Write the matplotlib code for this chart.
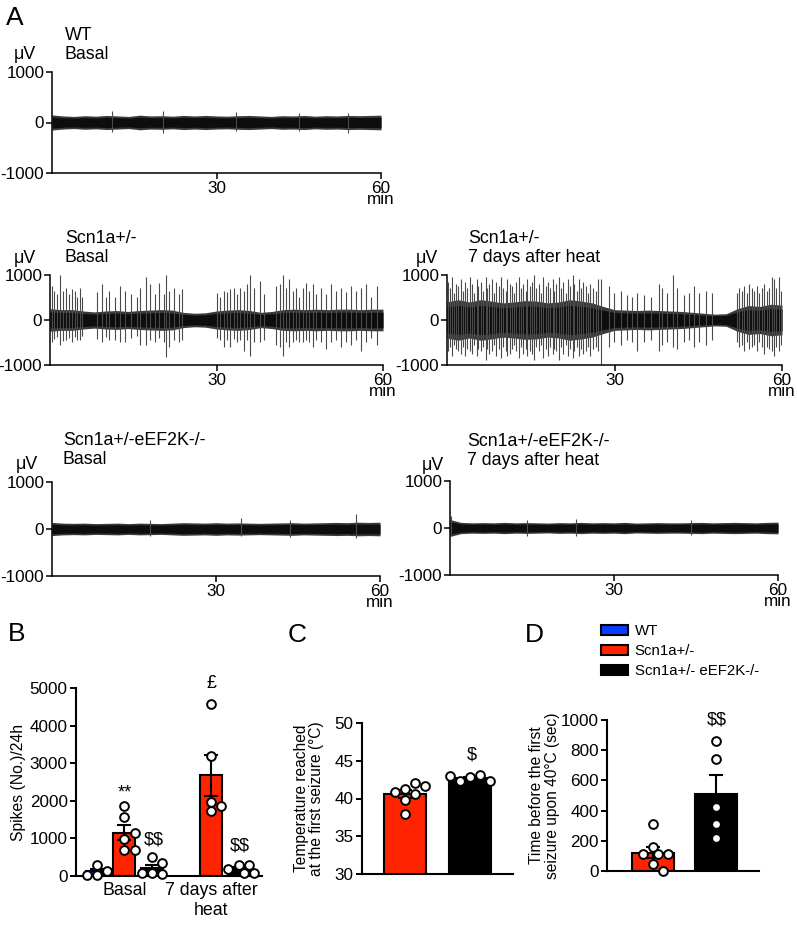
import numpy as np
import matplotlib
matplotlib.use('Agg')
import matplotlib.pyplot as plt
from matplotlib.patches import Patch

plt.rcParams['font.family'] = ['Liberation Sans', 'DejaVu Sans']
plt.rcParams['text.parse_math'] = False

W, H = 797, 926
RED = '#FF2400'
BLUE = '#0A3CFF'

# ---------------- EEG traces ----------------
# core band half-width (uV), sampled every 2 min from 0 to 60
env_t = list(range(0, 61, 2))
env_wt = [150, 130, 120, 135, 125, 140, 130, 120, 145, 130, 135, 125, 140, 130, 140,
          130, 125, 135, 140, 130, 120, 135, 130, 140, 125, 135, 130, 140, 135, 140, 145]
env_scn_basal = [250, 230, 230, 200, 180, 200, 210, 190, 210, 220, 230, 220, 170, 150, 160,
                 200, 220, 230, 210, 170, 190, 230, 240, 230, 240, 230, 240, 240, 230, 240, 240]
env_scn_heat = [400, 450, 400, 450, 420, 380, 400, 430, 420, 380, 400, 450, 420, 380, 300,
                230, 220, 210, 220, 210, 200, 190, 170, 150, 130, 140, 250, 320, 300, 350, 330]
env_ko_basal = [140, 125, 120, 125, 115, 120, 125, 115, 125, 120, 115, 125, 135, 130, 125,
                135, 125, 130, 125, 120, 125, 130, 135, 125, 130, 135, 140, 135, 145, 140, 145]
env_ko_heat = [180, 120, 110, 115, 110, 120, 110, 115, 110, 105, 115, 110, 120, 110, 115,
               110, 120, 105, 110, 115, 110, 110, 115, 120, 110, 115, 120, 115, 110, 120, 125]

# spikes: time (min), upward peak, downward peak (uV)
wt_t = [10.9, 20.2, 33.5, 45.0, 54.0]
wt_up = [220, 230, 200, 180, 190]
wt_dn = [180, 200, 170, 160, 200]

scn_b_t = [0.3, 0.8, 1.2, 1.8, 2.4, 2.9, 3.4, 4.0, 4.5, 4.9, 5.4, 5.8,
           8.4, 9.3, 10.1, 10.7, 11.7, 12.7, 13.6, 14.6, 15.7, 16.3, 17.3, 18.1, 19.0, 19.6,
           20.5, 20.9, 21.4, 22.3, 23.2, 23.7,
           30.1, 30.7, 31.3, 31.9, 32.5, 33.1, 33.7, 34.3, 34.9, 35.5, 36.1, 36.7, 37.8, 38.6,
           40.8, 41.4, 41.9, 42.5, 43.1, 43.7, 44.3, 44.9, 45.5, 46.1, 46.7, 47.3, 47.9, 48.8,
           49.7, 50.6, 51.5, 52.4, 53.3, 54.2, 55.1, 56.0, 56.9, 57.8, 59.0]
scn_b_up = [760, 650, 580, 1000, 650, 720, 580, 690, 650, 510, 720, 510,
            615, 800, 510, 650, 510, 760, 650, 580, 510, 720, 960, 800, 580, 830,
            580, 1000, 650, 720, 580, 690,
            600, 510, 650, 615, 690, 720, 580, 720, 650, 800, 1000, 720, 870, 580,
            760, 800, 1000, 720, 900, 650, 720, 510, 720, 830, 650, 800, 580, 720,
            580, 800, 650, 720, 615, 760, 650, 720, 800, 510, 760]
scn_b_dn = [500, 420, 380, 550, 460, 450, 400, 500, 380, 450, 450, 350,
            420, 500, 380, 450, 450, 500, 480, 400, 350, 550, 550, 450, 480, 400,
            500, 820, 600, 450, 500, 450,
            400, 450, 600, 450, 600, 420, 500, 450, 700, 450, 800, 500, 500, 450,
            550, 600, 800, 500, 600, 500, 450, 500, 500, 450, 500, 600, 450, 500,
            650, 500, 450, 600, 500, 550, 450, 700, 500, 400, 550]

scn_h_t = [0.2, 0.6, 0.9, 1.3, 1.7, 2.0, 2.5, 2.8, 3.2, 3.6, 4.1, 4.4, 4.8, 5.3, 5.6,
           6.0, 6.4, 6.9, 7.2, 7.6, 8.1, 8.4, 8.8, 9.3, 9.6, 10.0, 10.5, 10.8, 11.2, 11.7,
           12.0, 12.4, 12.9, 13.2, 13.6, 14.1, 14.4, 14.8, 15.3, 15.6, 16.0, 16.5, 16.8, 17.2, 17.7,
           18.0, 18.4, 18.9, 19.2, 19.6, 20.1, 20.4, 20.8, 21.3, 21.6, 22.0, 22.5, 22.8, 23.2, 23.7,
           24.0, 24.4, 24.9, 25.3, 25.7, 26.2, 26.6, 27.0,
           27.5, 29.0, 29.9, 31.2, 32.3, 33.2, 34.1, 35.3, 36.5, 37.9, 38.5, 39.4, 40.5, 41.2,
           42.4, 43.3, 44.2, 45.1, 46.3, 47.5,
           51.9, 52.3, 52.8, 53.2, 53.7, 54.1, 54.6, 55.0, 55.5, 55.9, 56.4, 56.8, 57.3, 57.7,
           58.2, 58.6, 59.0, 59.4, 59.8]
scn_h_up = [850, 700, 950, 600, 800, 750, 900, 650, 850, 700, 950, 800, 600, 900, 750,
            850, 650, 950, 700, 800, 900, 600, 850, 750, 950, 700, 650, 900, 800, 750,
            600, 850, 950, 700, 800, 650, 900, 750, 850, 1000, 700, 800, 600, 950, 750,
            850, 700, 900, 650, 800, 950, 700, 850, 600, 900, 750, 1000, 800, 650, 900,
            700, 850, 750, 600, 800, 700, 650, 900,
            900, 750, 600, 650, 550, 500, 600, 550, 500, 800, 700, 600, 1000, 700,
            550, 600, 750, 600, 650, 600,
            600, 700, 650, 750, 600, 800, 700, 650, 750, 600, 700, 800, 650, 700,
            950, 900, 700, 950, 650]
scn_h_dn = [700, 600, 800, 550, 650, 700, 750, 600, 800, 650, 700, 750, 550, 800, 650,
            700, 600, 900, 650, 750, 700, 550, 800, 650, 850, 600, 700, 800, 750, 650,
            550, 700, 850, 600, 750, 650, 800, 700, 750, 900, 600, 700, 550, 850, 650,
            800, 600, 750, 650, 700, 900, 600, 750, 550, 800, 650, 850, 700, 600, 800,
            650, 750, 700, 600, 800, 650, 600, 700,
            1000, 600, 500, 550, 450, 500, 700, 500, 450, 700, 550, 500, 600, 650,
            500, 450, 600, 500, 550, 450,
            500, 600, 550, 700, 500, 650, 600, 550, 700, 500, 600, 750, 600, 650,
            700, 800, 600, 700, 550]

ko_b_t = [18.0, 34.5, 43.5, 55.6]
ko_b_up = [200, 230, 200, 310]
ko_b_dn = [150, 150, 170, 200]

ko_h_t = [0.2, 14.0, 23.0, 44.0]
ko_h_up = [250, 180, 200, 180]
ko_h_dn = [120, 170, 160, 150]

# ---------------- bar panels ----------------
groups_b = ['Basal', '7 days after\nheat']
spk_wt_basal = [30, 300, 130, 30]
spk_scn_basal = [1860, 1560, 980, 1140, 690, 690]
spk_ko_basal = [510, 350, 70, 60, 80]
spk_scn_heat = [4580, 3200, 1980, 1740, 1870]
spk_ko_heat = [290, 70, 280, 180, 80]

temp_scn = [41.3, 42.1, 40.6, 40.8, 41.7, 37.9, 39.8]
temp_ko = [42.9, 43.1, 42.3, 42.3, 43.0]

time_scn = [310, 160, 110, 115, 110, 45, 0]
time_ko = [860, 739, 425, 314, 221]

legend_labels = ['WT', 'Scn1a+/-', 'Scn1a+/- eEF2K-/-']

fig = plt.figure(figsize=(W / 100, H / 100), dpi=100)


def add_ax(l, r, t, b):
    return fig.add_axes([l / W, 1 - b / H, (r - l) / W, (b - t) / H])


def ftext(x, y, s, **kw):
    return fig.text(x / W, 1 - y / H, s, **kw)


def trace(rect, env, sp_t, sp_up, sp_dn):
    ax = add_ax(*rect)
    env = np.array(env)
    # soft grey fringe + black core of the baseline activity
    ax.fill_between(env_t, -env, env, color='#3a3a3a', lw=0)
    ax.fill_between(env_t, -0.72 * env, 0.72 * env, color='#0d0d0d', lw=0)
    ax.vlines(sp_t, -np.array(sp_dn), sp_up, color='#4a4a4a', lw=0.8)
    ax.set_xlim(0, 60)
    ax.set_ylim(-1000, 1000)
    for s in ['top', 'right']:
        ax.spines[s].set_visible(False)
    for s in ['left', 'bottom']:
        ax.spines[s].set_linewidth(1.1)
    ax.set_yticks([-1000, 0, 1000], ['-1000', '0', '1000'])
    ax.set_xticks([30, 60], ['30', '60\nmin'])
    for lab in ax.get_xticklabels():
        lab.set_linespacing(0.72)
    ax.tick_params(labelsize=12.3, length=4, width=1.1, pad=1.5)
    return ax


trace((52, 381, 72, 173), env_wt, wt_t, wt_up, wt_dn)
trace((50, 383, 275, 365), env_scn_basal, scn_b_t, scn_b_up, scn_b_dn)
trace((447, 782, 275, 365), env_scn_heat, scn_h_t, scn_h_up, scn_h_dn)
trace((52, 380, 482, 576), env_ko_basal, ko_b_t, ko_b_up, ko_b_dn)
trace((450, 778, 481, 575), env_ko_heat, ko_h_t, ko_h_up, ko_h_dn)

tkw = dict(fontsize=12.8, va='top', ha='left', linespacing=1.13)
ftext(65, 27, 'WT\nBasal', **tkw)
ftext(65, 230, 'Scn1a+/-\nBasal', **tkw)
ftext(468, 230, 'Scn1a+/-\n7 days after heat', **tkw)
ftext(63, 432, 'Scn1a+/-eEF2K-/-\nBasal', **tkw)
ftext(467, 433, 'Scn1a+/-eEF2K-/-\n7 days after heat', **tkw)
mkw = dict(fontsize=12.8, va='baseline', ha='center')
ftext(25, 59, 'μV', **mkw)
ftext(25, 263, 'μV', **mkw)
ftext(427, 263, 'μV', **mkw)
ftext(27, 469, 'μV', **mkw)
ftext(433, 470, 'μV', **mkw)

lkw = dict(fontsize=19, va='baseline', ha='left')
ftext(6, 25, 'A', **lkw)
ftext(8, 641, 'B', **lkw)
ftext(288, 642, 'C', **lkw)
ftext(525, 642, 'D', **lkw)


def style(ax):
    for s in ['top', 'right']:
        ax.spines[s].set_visible(False)
    for s in ['left', 'bottom']:
        ax.spines[s].set_linewidth(1.5)
    ax.tick_params(labelsize=12.3, width=1.4, length=4, pad=2)


def swarm(ax, xc, vals, d=9.2):
    T = ax.transData
    placed = []
    xs = []
    cands = [0, 1, -1, 2, -2, 3, -3, 4, -4, 5, -5]
    for v in vals:
        px, py = T.transform((xc, v))
        for k in cands:
            cx = px + k * d * 0.55
            if all((cx - qx) ** 2 + (py - qy) ** 2 >= (d * 0.98) ** 2 for qx, qy in placed):
                break
        placed.append((cx, py))
        xs.append(T.inverted().transform((cx, py))[0])
    return xs


def bar_group(ax, x, vals, color, width):
    m = np.mean(vals)
    sem = np.std(vals, ddof=1) / np.sqrt(len(vals))
    ax.bar(x, m, width, color=color, edgecolor='black', lw=1.5, zorder=2)
    ax.errorbar(x, m, yerr=sem, fmt='none', ecolor='black', elinewidth=1.5,
                capsize=5, capthick=1.5, zorder=3)
    ax.plot(swarm(ax, x, vals), vals, 'o', mfc='white', mec='black', ms=6.3,
            mew=1.4, zorder=4, clip_on=False)


# Panel B
axb = add_ax(76, 262, 688, 876)
axb.set_xlim(-0.76, 6.0)
axb.set_ylim(0, 5000)
style(axb)
bar_group(axb, 0, spk_wt_basal, BLUE, 0.8)
bar_group(axb, 1, spk_scn_basal, RED, 0.8)
bar_group(axb, 2, spk_ko_basal, 'black', 0.8)
bar_group(axb, 4.15, spk_scn_heat, RED, 0.8)
bar_group(axb, 5.15, spk_ko_heat, 'black', 0.8)
axb.set_yticks(range(0, 5001, 1000))
axb.set_xticks([1, 4.15], groups_b)
axb.tick_params(axis='x', length=0, pad=4, labelsize=12.8)
for lab in axb.get_xticklabels():
    lab.set_linespacing(1.25)
axb.set_ylabel('Spikes (No.)/24h', fontsize=11.3, labelpad=3)
akw = dict(fontsize=13, ha='center', va='baseline')
axb.text(1, 2100, '**', **akw)
axb.text(2.05, 850, '$$', **akw)
axb.text(4.15, 5000, '£', **akw)
axb.text(5.2, 690, '$$', **akw)

# Panel C
axc = add_ax(362, 513, 723, 874)
axc.set_xlim(-0.66, 1.66)
axc.set_ylim(30, 50)
style(axc)
bar_group(axc, 0, temp_scn, RED, 0.65)
bar_group(axc, 1, temp_ko, 'black', 0.65)
axc.set_yticks(range(30, 51, 5))
axc.set_xticks([])
axc.set_ylabel('Temperature reached\nat the first seizure (°C)', fontsize=11.2,
               linespacing=1.05, labelpad=7.5)
axc.text(1.03, 45.2, '$', **akw)

# Panel D
axd = add_ax(607, 759, 720, 871)
axd.set_xlim(-0.72, 1.67)
axd.set_ylim(0, 1000)
style(axd)
bar_group(axd, 0, time_scn, RED, 0.66)
bar_group(axd, 1, time_ko, 'black', 0.66)
axd.set_yticks(range(0, 1001, 200))
axd.set_xticks([])
axd.set_ylabel('Time before the first\nseizure upon 40°C (sec)', fontsize=11.2,
               linespacing=1.05, labelpad=0.5)
axd.text(1, 967, '$$', **akw)

handles = [Patch(facecolor=c, edgecolor='black', lw=1.5) for c in [BLUE, RED, 'black']]
fig.legend(handles, legend_labels, loc='upper left', bbox_to_anchor=(601 / W, 1 - 624 / H),
           frameon=False, fontsize=10.8, handlelength=1.8, handleheight=0.7,
           handletextpad=0.45, labelspacing=0.4, borderpad=0, borderaxespad=0)

fig.savefig('out.png', dpi=100)
